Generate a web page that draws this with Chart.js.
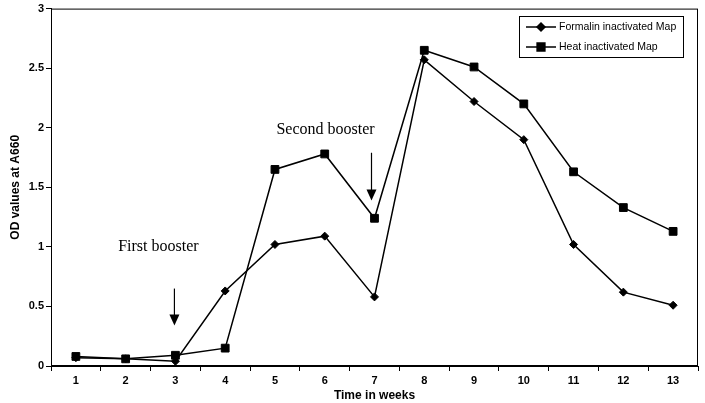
<!DOCTYPE html>
<html><head><meta charset="utf-8">
<script src="https://cdn.jsdelivr.net/npm/chart.js@4"></script>
<style>html,body{margin:0;padding:0;background:#fff}#wrap{width:705px;height:403px;position:relative}</style>
</head><body><div id="wrap"><canvas id="c"></canvas></div>
<script>
const weeks = ['1','2','3','4','5','6','7','8','9','10','11','12','13'];
const formalin = [0.07,0.06,0.04,0.63,1.02,1.09,0.58,2.57,2.22,1.90,1.02,0.62,0.51];
const heat = [0.08,0.06,0.09,0.15,1.65,1.78,1.24,2.65,2.51,2.20,1.63,1.33,1.13];
const yTicks = [0,0.5,1,1.5,2,2.5,3];
const yTickLabels = ['0','0.5','1','1.5','2','2.5','3'];
const seriesNames = ['Formalin inactivated Map','Heat inactivated Map'];
const boosterLabels = ['First booster','Second booster'];
const boosterWeeks = ['3','7'];

const overlay = {
  id:'overlay',
  afterDatasetsDraw(chart){
    const {ctx, chartArea:a, scales:{x,y}} = chart;
    ctx.save();
    ctx.strokeStyle='#000'; ctx.fillStyle='#000'; ctx.lineWidth=1;
    ctx.strokeRect(a.left+0.5, a.top+0.5, a.right-a.left-1, a.bottom-a.top-1);
    function arrow(px, y1, y2){
      ctx.lineWidth=1.2;
      ctx.beginPath(); ctx.moveTo(px,y1); ctx.lineTo(px,y2-8); ctx.stroke();
      ctx.beginPath(); ctx.moveTo(px-5,y2-11); ctx.lineTo(px+5,y2-11); ctx.lineTo(px,y2); ctx.closePath(); ctx.fill();
    }
    const x1 = x.getPixelForValue(weeks.indexOf(boosterWeeks[0])) - 1;
    const x2 = x.getPixelForValue(weeks.indexOf(boosterWeeks[1])) - 3;
    arrow(x1, y.getPixelForValue(0.65), y.getPixelForValue(0.34));
    arrow(x2, y.getPixelForValue(1.79), y.getPixelForValue(1.39));
    ctx.font = '16px "Liberation Serif", "Times New Roman", serif';
    ctx.textAlign='center'; ctx.textBaseline='middle';
    ctx.fillText(boosterLabels[0], x1-16, y.getPixelForValue(1.0));
    ctx.fillText(boosterLabels[1], x2-46, y.getPixelForValue(1.98));
    // legend
    const lx=519, ly=16, lw=164, lh=41;
    ctx.fillStyle='#fff'; ctx.fillRect(lx,ly,lw,lh);
    ctx.strokeStyle='#000'; ctx.lineWidth=1;
    ctx.strokeRect(lx+0.5,ly+0.5,lw,lh);
    ctx.fillStyle='#000';
    ctx.font='10.5px "Liberation Sans", Arial, sans-serif';
    ctx.textAlign='left';
    chart.data.datasets.forEach((ds,i)=>{
      const ry = ly + 11 + i*20;
      ctx.lineWidth=1.5;
      ctx.beginPath(); ctx.moveTo(lx+7,ry); ctx.lineTo(lx+37,ry); ctx.stroke();
      Chart.helpers.drawPoint(ctx,{pointStyle:ds.pointStyle,radius:ds.pointRadius,borderWidth:1},lx+22,ry);
      ctx.fill();
      ctx.fillText(ds.label, lx+40, ry);
    });
    ctx.restore();
  }
};

new Chart(document.getElementById('c'), {
  type:'line',
  data:{
    labels:weeks,
    datasets:[
      {label:seriesNames[0], data:formalin, borderColor:'#000', backgroundColor:'#000', borderWidth:1.5,
       pointStyle:'rectRot', pointRadius:4, pointBorderWidth:1, pointBackgroundColor:'#000', pointBorderColor:'#000', tension:0},
      {label:seriesNames[1], data:heat, borderColor:'#000', backgroundColor:'#000', borderWidth:1.5,
       pointStyle:'rect', pointRadius:5.5, pointBorderWidth:1, pointBackgroundColor:'#000', pointBorderColor:'#000', tension:0}
    ]
  },
  options:{
    responsive:true, maintainAspectRatio:false, animation:false,
    layout:{padding:{left:0,top:8,right:7,bottom:0}},
    plugins:{legend:{display:false}, tooltip:{enabled:false}},
    scales:{
      x:{
        offset:true,
        grid:{offset:true, drawOnChartArea:false, drawTicks:true, tickLength:5, color:'#000'},
        border:{display:true,color:'#000'},
        ticks:{color:'#000', font:{family:'"Liberation Sans", Arial, sans-serif', size:11, weight:'bold'}, padding:3, maxRotation:0},
        title:{display:true, text:'Time in weeks', color:'#000', font:{family:'"Liberation Sans", Arial, sans-serif', size:12, weight:'bold'}, padding:{top:0,bottom:0}},
        afterFit(s){ s.height = 37; }
      },
      y:{
        min:0, max:3,
        afterBuildTicks(s){ s.ticks = yTicks.map(v=>({value:v})); },
        grid:{drawOnChartArea:false, drawTicks:true, tickLength:5, color:'#000'},
        border:{display:true,color:'#000'},
        ticks:{color:'#000', font:{family:'"Liberation Sans", Arial, sans-serif', size:11, weight:'bold'}, padding:2,
          callback(v){ const i = yTicks.indexOf(v); return i>=0 ? yTickLabels[i] : ''; }},
        title:{display:true, text:'OD values at A660', color:'#000', font:{family:'"Liberation Sans", Arial, sans-serif', size:12, weight:'bold'}, padding:{top:8,bottom:4}},
        afterFit(s){ s.width = 51; }
      }
    }
  },
  plugins:[overlay]
});
</script></body></html>
